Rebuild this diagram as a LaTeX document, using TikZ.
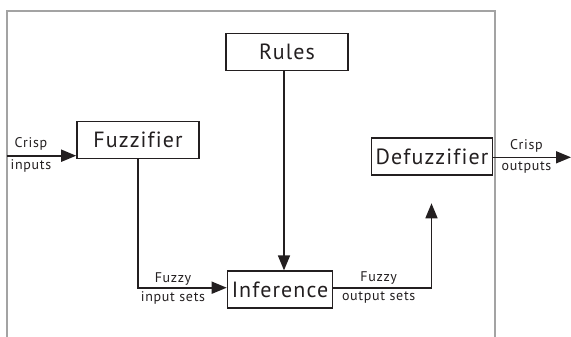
\documentclass[tikz,border=0pt]{standalone}
\usepackage{fontspec}
\setmainfont[Ligatures=CommonOff,LetterSpace=5]{PT Sans}
\usetikzlibrary{arrows.meta}
\definecolor{ink}{HTML}{231F20}
\definecolor{framegray}{HTML}{A3A3A3}
\begin{document}
\begin{tikzpicture}[x=1pt,y=-1pt,
  block/.style={draw=ink,line width=1.6pt,minimum height=37pt,inner sep=0pt,
    font=\fontsize{22}{24}\selectfont,text=ink},
  flow/.style={draw=ink,line width=1.6pt,-{Triangle[length=15pt,width=12pt]}},
  tag/.style={font=\fontsize{14}{15}\selectfont,text=ink,inner sep=0pt}]
\useasboundingbox (0,0) rectangle (571,337);
% outer frame, open at the bottom
\draw[framegray,line width=2pt] (6.7,340) -- (6.7,11) -- (494.5,11) -- (494.5,340);
% blocks
\node[block,minimum width=122pt] (rules) at (287,52) {Rules};
\node[block,minimum width=122pt] (fuzz) at (138,140) {Fuzzifier};
\node[block,minimum width=121pt] (defuzz) at (432,156.7) {Defuzzifier};
\node[block,minimum width=105pt] (inf) at (280,289.7) {Inference};
% free ends
\coordinate (inStart) at (6.7,155.7);
\coordinate (outEnd) at (571,157.3);
\coordinate (upEnd) at (431.5,203.3);
% connectors
\draw[flow] (inStart) -- (inStart -| fuzz.west);
\draw[flow] (defuzz.east |- outEnd) -- (outEnd);
\draw[flow] (fuzz.south) -- (fuzz.south |- 0,287.7) -- (inf.west |- 0,287.7);
\draw[flow] (284,0 |- rules.south) -- (284,0 |- inf.north);
\draw[flow] (inf.east |- 0,287.7) -- (upEnd |- 0,287.7) -- (upEnd);
% labels
\node[tag] at (31,144) {Crisp};
\node[tag] at (31,166) {inputs};
\node[tag] at (526.5,146) {Crisp};
\node[tag] at (526.5,168) {outputs};
\node[tag] at (173,279) {Fuzzy};
\node[tag] at (173,298) {input sets};
\node[tag] at (378.7,278) {Fuzzy};
\node[tag] at (378.7,297.7) {output sets};
\end{tikzpicture}
\end{document}
